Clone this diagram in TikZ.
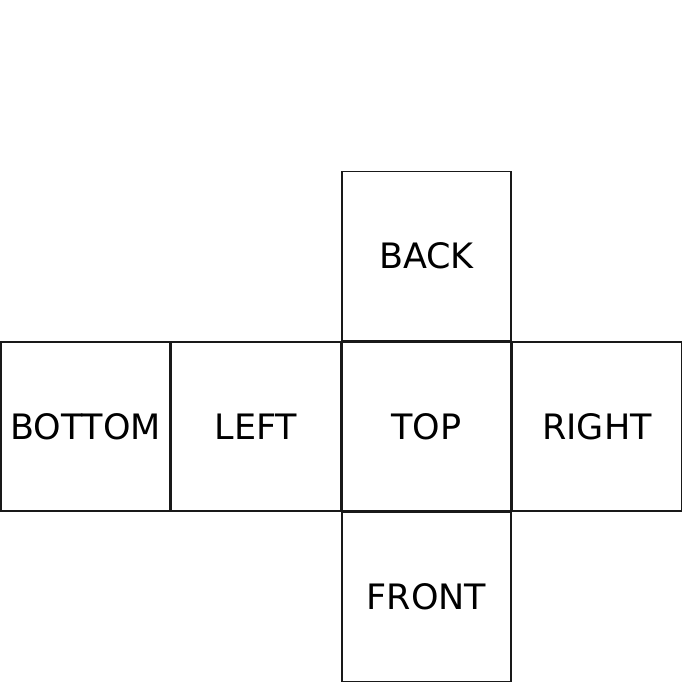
\documentclass[tikz,border=0pt]{standalone}
\usepackage{fontspec}
\setmainfont{DejaVu Sans}
\begin{document}
\begin{tikzpicture}[x=1pt,y=-1pt,
  face/.style={draw=black!90,line width=1.2pt,minimum size=169pt,inner sep=0pt,
    font=\fontsize{35}{41}\selectfont,text=black}]
\useasboundingbox (0,0) rectangle (683,683);
\node[face] (bottom) at (85.5,426.5) {BOTTOM};
\node[face] (left) at (256,426.5) {LEFT};
\node[face] (top) at (426.5,426.5) {TOP};
\node[face] (right) at (597,426.5) {RIGHT};
\node[face] (back) at (426.5,256) {BACK};
\node[face] (front) at (426.5,597) {FRONT};
\end{tikzpicture}
\end{document}
